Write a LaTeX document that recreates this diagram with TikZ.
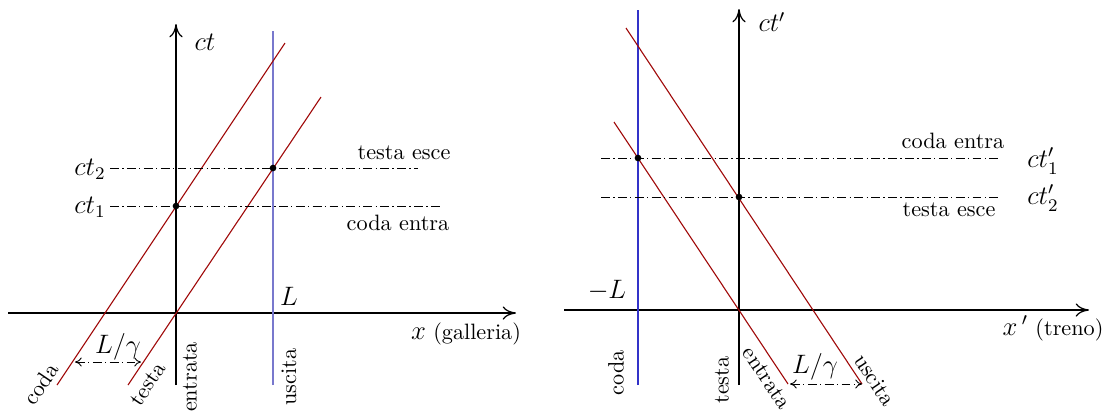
\documentclass[tikz,border=0pt]{standalone}
\usetikzlibrary{arrows.meta}
\definecolor{wl}{RGB}{160,10,10}
\definecolor{lblue}{RGB}{120,120,205}
\definecolor{dblue}{RGB}{50,50,200}
\begin{document}
\begin{tikzpicture}[x=0.45pt,y=-0.45pt,
  axis/.style={line width=0.55pt,-{To[length=6pt,width=6pt]}},
  world/.style={wl,line width=0.5pt},
  sim/.style={line width=0.4pt,dash pattern=on 4pt off 1.5pt on 0.6pt off 1.5pt},
  dist/.style={sim,{To[length=3pt,width=4pt]}-{To[length=3pt,width=4pt]}},
  ev/.style={circle,fill=black,inner sep=0pt,minimum size=3pt},
  lab/.style={inner sep=1pt},
  mlab/.style={inner sep=1pt,font=\large}]
\useasboundingbox (0,0) rectangle (1111,412);
% ---------- left diagram ----------
\coordinate (LxS) at (8,313); \coordinate (LxE) at (516,313);
\coordinate (LyS) at (176,385); \coordinate (LyE) at (176,24);
\draw[axis] (LxS) -- (LxE);
\draw[axis] (LyS) -- (LyE);
\coordinate (LbS) at (273,385); \coordinate (LbE) at (273,31);
\draw[lblue,line width=0.9pt] (LbS) -- (LbE);
\coordinate (Lc1) at (57,385); \coordinate (Lc2) at (285,43);
\coordinate (Lt1) at (128,385); \coordinate (Lt2) at (321,97);
\draw[world] (Lc1) -- (Lc2);
\draw[world] (Lt1) -- (Lt2);
\node[lab] (lct2) at (90,169) {\large$ct_2$};
\node[lab] (lct1) at (90,207) {\large$ct_1$};
\coordinate (Ld2e) at (418,168); \coordinate (Ld1e) at (441,206);
\coordinate (Ld2s) at (110,168); \coordinate (Ld1s) at (110,206);
\draw[sim] (Ld2s) -- (Ld2e);
\draw[sim] (Ld1s) -- (Ld1e);
\node[ev] (lev1) at (176,206) {};
\node[ev] (lev2) at (273,168) {};
\node[lab] (ltesc) at (404,153) {testa esce};
\node[lab] (lcent) at (398,223) {coda entra};
\node[mlab] (lct) at (205,42) {$ct$};
\node[mlab] (lL) at (289,296) {$L$};
\node[lab] (lx) at (466,334) {{\large$x$} (galleria)};
\coordinate (LdA) at (75,362); \coordinate (LdB) at (141,362);
\draw[dist] (LdA) -- (LdB);
\node[mlab] (lLg) at (118,347) {$L/\gamma$};
\node[lab,rotate=56] (lcoda) at (41,384) {coda};
\node[lab,rotate=56] (ltesta) at (148,384) {testa};
\node[lab,rotate=90] (lentr) at (190,377) {entrata};
\node[lab,rotate=90] (lusc) at (289,377) {uscita};
% ---------- right diagram ----------
\coordinate (RxS) at (564,310); \coordinate (RxE) at (1089,310);
\coordinate (RyS) at (739,385); \coordinate (RyE) at (739,9);
\draw[axis] (RxS) -- (RxE);
\draw[axis] (RyS) -- (RyE);
\coordinate (RbS) at (638,385); \coordinate (RbE) at (638,10);
\draw[dblue,line width=0.6pt] (RbS) -- (RbE);
\coordinate (Re1) at (614,122); \coordinate (Re2) at (788,384);
\coordinate (Ru1) at (626,28); \coordinate (Ru2) at (862,384);
\draw[world] (Re1) -- (Re2);
\draw[world] (Ru1) -- (Ru2);
\coordinate (Rd1s) at (601,158); \coordinate (Rd1e) at (1000,158);
\coordinate (Rd2s) at (601,197); \coordinate (Rd2e) at (1000,197);
\draw[sim] (Rd1s) -- (Rd1e);
\draw[sim] (Rd2s) -- (Rd2e);
\node[ev] (rev1) at (638,158) {};
\node[ev] (rev2) at (739,197) {};
\node[lab] (rcent) at (953,141) {coda entra};
\node[lab] (rtesc) at (949,210) {testa esce};
\node[mlab] (rct1) at (1043,161) {$ct'_1$};
\node[mlab] (rct2) at (1043,198) {$ct'_2$};
\node[mlab] (rct) at (772,22) {$ct'$};
\node[mlab] (rL) at (607,290) {$-L$};
\node[lab] (rx) at (1053,328) {{\large$x\,'$} (treno)};
\coordinate (RdA) at (790,384); \coordinate (RdB) at (862,384);
\draw[dist] (RdA) -- (RdB);
\node[mlab] (rLg) at (815,367) {$L/\gamma$};
\node[lab,rotate=90] (rcoda) at (616,373) {coda};
\node[lab,rotate=90] (rtesta) at (722,380) {testa};
\node[lab,rotate=-56] (rentr) at (767,378) {entrata};
\node[lab,rotate=-56] (rusc) at (875,380) {uscita};
\end{tikzpicture}
\end{document}
